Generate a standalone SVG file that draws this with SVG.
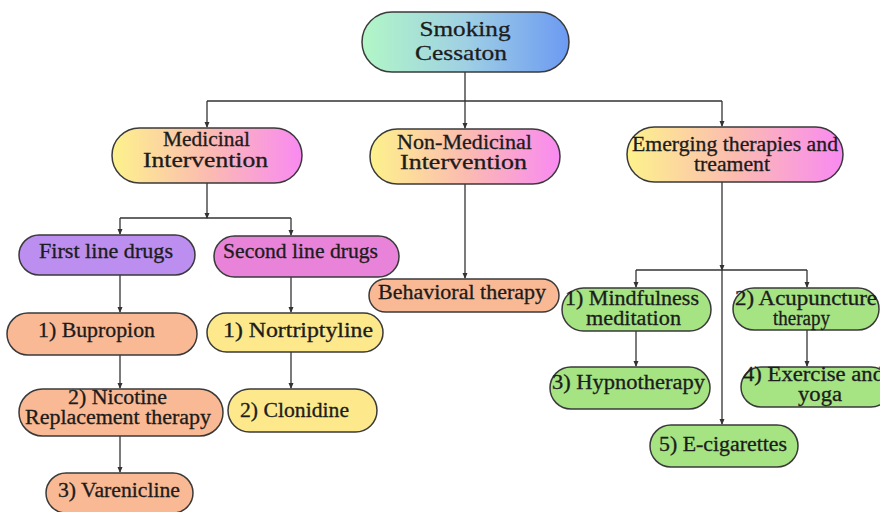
<svg xmlns="http://www.w3.org/2000/svg" width="880" height="512" viewBox="0 0 880 512">
<defs>
<linearGradient id="gRoot" x1="0" y1="0" x2="1" y2="0">
<stop offset="0" stop-color="#b2f7c6"/><stop offset="0.5" stop-color="#9fd0e4"/><stop offset="1" stop-color="#6c9af2"/>
</linearGradient>
<linearGradient id="gL1" x1="0" y1="0" x2="1" y2="0">
<stop offset="0" stop-color="#fdf28c"/><stop offset="0.5" stop-color="#fbbcb0"/><stop offset="1" stop-color="#f98af2"/>
</linearGradient>
<marker id="ah" markerUnits="userSpaceOnUse" markerWidth="6" markerHeight="6" viewBox="0 0 6 6" refX="5" refY="3" orient="auto">
<path d="M0,0.5 L6,3 L0,5.5 Z" fill="#333"/>
</marker>
<style>
.n{stroke:#3a3a3a;stroke-width:1.5}
.t{font-family:"Liberation Serif","Times New Roman",serif;font-size:20px;fill:#1c1c1c;text-anchor:middle;stroke:#1c1c1c;stroke-width:0.3}
.ts{text-anchor:start}
.salmon{fill:#f9b994}.yellow{fill:#fde98b}.green{fill:#a5e383}.purple{fill:#bb8ef0}.pink{fill:#e983d9}
.c{fill:none;stroke:#333;stroke-width:1.3}
.a{marker-end:url(#ah)}
</style>
</defs>
<g id="connectors">
<path class="c" d="M465,72 V101 M207,101 H722"/>
<path class="c a" d="M207,101 V127"/>
<path class="c a" d="M465,101 V128"/>
<path class="c a" d="M722,101 V126"/>
<path class="c a" d="M207,183 V218"/>
<path class="c" d="M120,218 H291"/>
<path class="c a" d="M120,218 V234"/>
<path class="c a" d="M291,218 V235"/>
<path class="c a" d="M120,275 V312"/>
<path class="c a" d="M291,277 V312"/>
<path class="c a" d="M120,355 V388"/>
<path class="c a" d="M291,352 V388"/>
<path class="c a" d="M120,436 V472"/>
<path class="c a" d="M465,184 V278"/>
<path class="c a" d="M722,182 V270"/>
<path class="c" d="M636,270 H807"/>
<path class="c a" d="M636,270 V287"/>
<path class="c a" d="M807,270 V287"/>
<path class="c a" d="M722,270 V424"/>
<path class="c a" d="M636,331 V366"/>
<path class="c a" d="M807,330 V366"/>
</g>
<g id="root"><rect class="n" x="362" y="12" width="207" height="60" rx="30" fill="url(#gRoot)"/>
<text class="t" style="font-size:22px" x="465" y="36" textLength="91" lengthAdjust="spacingAndGlyphs">Smoking</text>
<text class="t" style="font-size:22px" x="461" y="60" textLength="92" lengthAdjust="spacingAndGlyphs">Cessaton</text></g>
<g id="medicinal"><rect class="n" x="112" y="128" width="190" height="55" rx="27.5" fill="url(#gL1)"/>
<text class="t" x="206.5" y="146" textLength="87" lengthAdjust="spacingAndGlyphs">Medicinal</text>
<text class="t" x="205.5" y="167" textLength="125" lengthAdjust="spacingAndGlyphs">Intervention</text></g>
<g id="nonmedicinal"><rect class="n" x="370" y="129" width="190" height="55" rx="27.5" fill="url(#gL1)"/>
<text class="t" x="464.5" y="149" textLength="135" lengthAdjust="spacingAndGlyphs">Non-Medicinal</text>
<text class="t" x="463.5" y="169" textLength="127" lengthAdjust="spacingAndGlyphs">Intervention</text></g>
<g id="emerging"><rect class="n" x="627" y="127" width="216" height="55" rx="27.5" fill="url(#gL1)"/>
<text class="t" x="735" y="151" textLength="206" lengthAdjust="spacingAndGlyphs">Emerging therapies and</text>
<text class="t" x="732" y="171" textLength="76" lengthAdjust="spacingAndGlyphs">treament</text></g>
<g id="firstline"><rect class="n purple" x="19" y="235" width="176" height="40" rx="20"/>
<text class="t" x="106" y="258" textLength="134" lengthAdjust="spacingAndGlyphs">First line drugs</text></g>
<g id="secondline"><rect class="n pink" x="214" y="236" width="185" height="41" rx="20.5"/>
<text class="t" x="300.5" y="258" textLength="155" lengthAdjust="spacingAndGlyphs">Second line drugs</text></g>
<g id="bupropion"><rect class="n salmon" x="7" y="313" width="190" height="42" rx="21"/>
<text class="t" x="96.5" y="337" textLength="117" lengthAdjust="spacingAndGlyphs">1) Bupropion</text></g>
<g id="nortriptyline"><rect class="n yellow" x="207" y="313" width="176" height="39" rx="19.5"/>
<text class="t" x="298" y="337" textLength="150" lengthAdjust="spacingAndGlyphs">1) Nortriptyline</text></g>
<g id="nicotine"><rect class="n salmon" x="19" y="389" width="204" height="47" rx="23.5"/>
<text class="t" x="117.5" y="404" textLength="99" lengthAdjust="spacingAndGlyphs">2) Nicotine</text>
<text class="t" x="118" y="424" textLength="186" lengthAdjust="spacingAndGlyphs">Replacement therapy</text></g>
<g id="varenicline"><rect class="n salmon" x="46" y="473" width="147" height="40" rx="20"/>
<text class="t" x="119" y="497" textLength="122" lengthAdjust="spacingAndGlyphs">3) Varenicline</text></g>
<g id="clonidine"><rect class="n yellow" x="228" y="389" width="149" height="43" rx="21.5"/>
<text class="t" x="294.5" y="417" textLength="109" lengthAdjust="spacingAndGlyphs">2) Clonidine</text></g>
<g id="behavioral"><rect class="n salmon" x="369" y="279" width="190" height="33" rx="16.5"/>
<text class="t" x="462" y="299" textLength="168" lengthAdjust="spacingAndGlyphs">Behavioral therapy</text></g>
<g id="mindfulness"><rect class="n green" x="562" y="288" width="149" height="43" rx="21.5"/>
<text class="t" x="632" y="305" textLength="134" lengthAdjust="spacingAndGlyphs">1) Mindfulness</text>
<text class="t" x="633.5" y="325" textLength="95" lengthAdjust="spacingAndGlyphs">meditation</text></g>
<g id="acupuncture"><rect class="n green" x="733" y="288" width="146" height="42" rx="21"/>
<text class="t" x="806" y="305" textLength="142" lengthAdjust="spacingAndGlyphs">2) Acupuncture</text>
<text class="t" x="801.5" y="325" textLength="57" lengthAdjust="spacingAndGlyphs">therapy</text></g>
<g id="hypnotherapy"><rect class="n green" x="550" y="367" width="160" height="42" rx="21"/>
<text class="t" x="628.5" y="389" textLength="153" lengthAdjust="spacingAndGlyphs">3) Hypnotherapy</text></g>
<g id="exercise"><rect class="n green" x="741" y="367" width="150" height="40" rx="20"/>
<text class="t ts" x="743" y="381" textLength="141" lengthAdjust="spacingAndGlyphs">4) Exercise and</text>
<text class="t" x="820" y="401" textLength="44" lengthAdjust="spacingAndGlyphs">yoga</text></g>
<g id="ecigarettes"><rect class="n green" x="650" y="425" width="148" height="42" rx="21"/>
<text class="t" x="723" y="451" textLength="128" lengthAdjust="spacingAndGlyphs">5) E-cigarettes</text></g>
</svg>
